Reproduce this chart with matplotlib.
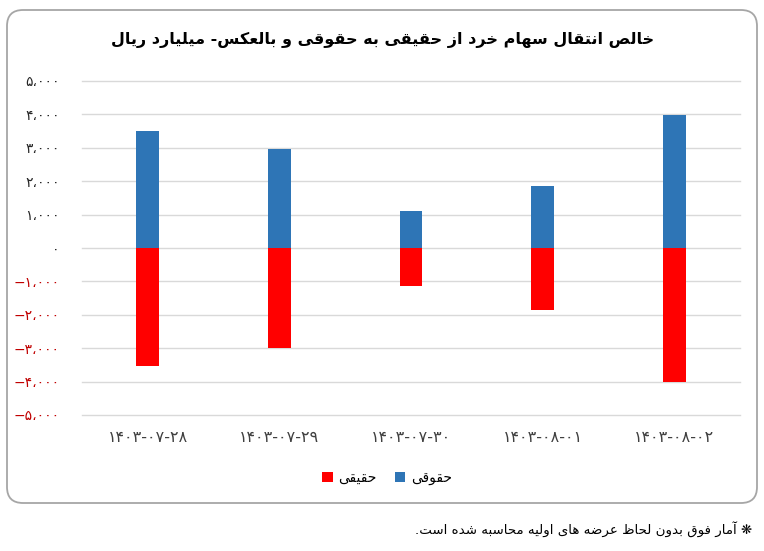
import matplotlib.pyplot as plt
from matplotlib.patches import FancyBboxPatch, Patch
import numpy as np

# data (billion rials)
dates = ['۱۴۰۳-۰۷-۲۸', '۱۴۰۳-۰۷-۲۹', '۱۴۰۳-۰۷-۳۰', '۱۴۰۳-۰۸-۰۱', '۱۴۰۳-۰۸-۰۲']
legal = [3490, 2960, 1120, 1850, 3990]               # حقوقی
individual = [-3520, -2980, -1130, -1870, -4010]     # حقیقی
yticks = list(range(-5000, 5001, 1000))

title = 'خالص انتقال سهام خرد از حقیقی به حقوقی و بالعکس- میلیارد ریال'
legal_name = 'حقوقی'
indiv_name = 'حقیقی'
note = '❋ آمار فوق بدون لحاظ عرضه های اولیه محاسبه شده است.'

# minimal arabic shaping: isolated, final, (initial, medial)
FORMS = {
    'ا': (0xFE8D, 0xFE8E), 'آ': (0xFE81, 0xFE82),
    'د': (0xFEA9, 0xFEAA), 'ر': (0xFEAD, 0xFEAE), 'ز': (0xFEAF, 0xFEB0),
    'و': (0xFEED, 0xFEEE),
    'ب': (0xFE8F, 0xFE90, 0xFE91, 0xFE92), 'ت': (0xFE95, 0xFE96, 0xFE97, 0xFE98),
    'ح': (0xFEA1, 0xFEA2, 0xFEA3, 0xFEA4), 'خ': (0xFEA5, 0xFEA6, 0xFEA7, 0xFEA8),
    'س': (0xFEB1, 0xFEB2, 0xFEB3, 0xFEB4), 'ش': (0xFEB5, 0xFEB6, 0xFEB7, 0xFEB8),
    'ص': (0xFEB9, 0xFEBA, 0xFEBB, 0xFEBC), 'ض': (0xFEBD, 0xFEBE, 0xFEBF, 0xFEC0),
    'ظ': (0xFEC5, 0xFEC6, 0xFEC7, 0xFEC8), 'ع': (0xFEC9, 0xFECA, 0xFECB, 0xFECC),
    'ف': (0xFED1, 0xFED2, 0xFED3, 0xFED4), 'ق': (0xFED5, 0xFED6, 0xFED7, 0xFED8),
    'ل': (0xFEDD, 0xFEDE, 0xFEDF, 0xFEE0), 'م': (0xFEE1, 0xFEE2, 0xFEE3, 0xFEE4),
    'ن': (0xFEE5, 0xFEE6, 0xFEE7, 0xFEE8), 'ه': (0xFEE9, 0xFEEA, 0xFEEB, 0xFEEC),
    'ی': (0xFBFC, 0xFBFD, 0xFBFE, 0xFBFF), 'ک': (0xFB8E, 0xFB8F, 0xFB90, 0xFB91),
}


def fa(text):
    out = []
    for i, ch in enumerate(text):
        f = FORMS.get(ch)
        if f is None:
            out.append(ch)
            continue
        prev = text[i - 1] if i > 0 else ''
        nxt = text[i + 1] if i + 1 < len(text) else ''
        jp = prev in FORMS and len(FORMS[prev]) == 4
        jn = len(f) == 4 and nxt in FORMS
        if jp and jn:
            c = f[3]
        elif jp:
            c = f[1]
        elif jn:
            c = f[2]
        else:
            c = f[0]
        out.append(chr(c))
    return ''.join(out)[::-1]


def fa_num(v):
    s = f'{abs(v):,}'.translate(str.maketrans('0123456789,', '۰۱۲۳۴۵۶۷۸۹،'))
    return ('−' + s) if v < 0 else s


plt.rcParams['font.family'] = ['DejaVu Sans']

fig = plt.figure(figsize=(7.64, 5.51), dpi=100)

# rounded frame around the chart
bg = fig.add_axes([0, 0, 1, 1])
bg.set_xlim(0, 764)
bg.set_ylim(0, 551)
bg.axis('off')
bg.add_patch(FancyBboxPatch((7, 48), 750, 493, boxstyle='round,pad=0,rounding_size=16',
                            facecolor='white', edgecolor='#a6a6a6', linewidth=1.3))

ax = fig.add_axes([82 / 764, 1 - 415 / 551, 658 / 764, 334 / 551])
ax.set_facecolor('none')
x = np.arange(len(dates))
ax.bar(x, legal, width=0.172, color='#2e75b6', zorder=3)
ax.bar(x, individual, width=0.172, color='#ff0000', zorder=3)

ax.set_xlim(-0.5, len(dates) - 0.5)
ax.set_ylim(-5000, 5000)
ax.set_yticks(yticks)
ax.set_yticklabels([fa_num(v) for v in yticks], fontsize=10)
for lab, v in zip(ax.get_yticklabels(), yticks):
    lab.set_color('#c00000' if v < 0 else '#262626')
ax.set_xticks(x)
ax.set_xticklabels(dates, fontsize=11.5, color='#404040')
ax.tick_params(axis='y', length=0, pad=16)
ax.tick_params(axis='x', length=0, pad=11)
ax.grid(axis='y', color='#d9d9d9', linewidth=1, zorder=0)
for g in ax.yaxis.get_gridlines():
    g.set_clip_on(False)
for s in ax.spines.values():
    s.set_visible(False)

fig.text(383 / 764, 1 - 40 / 551, fa(title), ha='center', va='center',
         fontsize=11.5, fontweight='bold', color='black')

handles = [Patch(facecolor='#ff0000', label=fa(indiv_name)),
           Patch(facecolor='#2e75b6', label=fa(legal_name))]
fig.legend(handles=handles, loc='center', bbox_to_anchor=(387 / 764, 1 - 478 / 551),
           ncol=2, frameon=False, fontsize=10, handlelength=0.75, handleheight=0.75,
           columnspacing=1.3, handletextpad=0.4)

fig.text(752 / 764, 1 - 530 / 551, fa(note), ha='right', va='center', fontsize=9.6)

fig.savefig('out.png', dpi=100)
